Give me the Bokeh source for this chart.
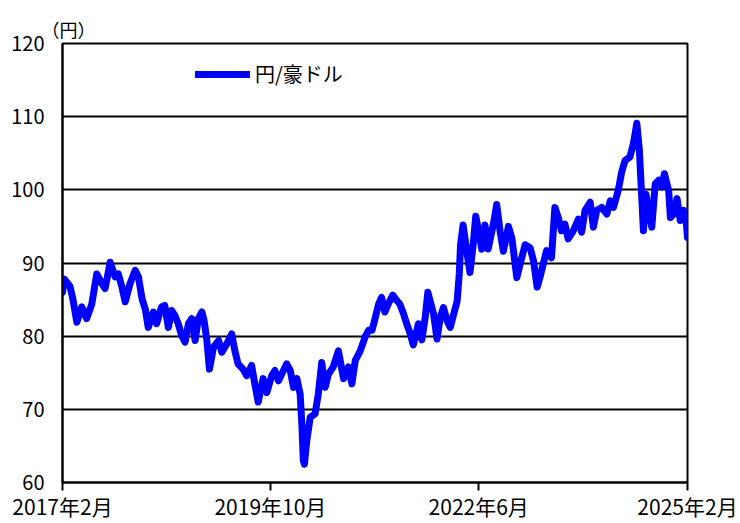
from bokeh.plotting import figure
from bokeh.models import (ColumnDataSource, FixedTicker, CustomJSTickFormatter,
                          Legend, LegendItem, Range1d)
from bokeh.embed import file_html
from bokeh.resources import INLINE
import pandas as pd

FONT = "Noto Sans CJK JP"

dates = [
    "2017-02-01", "2017-02-10", "2017-03-08", "2017-03-22", "2017-04-09", "2017-05-02",
    "2017-05-25", "2017-06-18", "2017-07-11", "2017-08-04", "2017-08-19", "2017-09-12",
    "2017-10-05", "2017-10-20", "2017-11-06", "2017-11-21", "2017-12-14", "2018-01-07",
    "2018-01-22", "2018-02-08", "2018-02-23", "2018-03-09", "2018-04-02", "2018-04-17",
    "2018-05-10", "2018-05-25", "2018-06-11", "2018-06-26", "2018-07-12", "2018-07-27",
    "2018-08-12", "2018-08-28", "2018-09-13", "2018-09-28", "2018-10-14", "2018-10-29",
    "2018-11-15", "2018-11-25", "2018-12-08", "2018-12-20", "2019-01-08", "2019-02-01",
    "2019-02-16", "2019-03-10", "2019-04-03", "2019-04-18", "2019-05-03", "2019-05-26",
    "2019-06-12", "2019-07-05", "2019-07-20", "2019-08-05", "2019-08-28", "2019-09-14",
    "2019-10-07", "2019-10-22", "2019-11-08", "2019-12-01", "2019-12-16", "2020-01-02",
    "2020-01-17", "2020-02-02", "2020-02-17", "2020-02-25", "2020-03-03", "2020-03-08",
    "2020-03-19", "2020-04-04", "2020-04-27", "2020-05-12", "2020-05-28", "2020-06-13",
    "2020-06-28", "2020-07-21", "2020-08-14", "2020-09-07", "2020-09-30", "2020-10-16",
    "2020-11-01", "2020-11-24", "2020-12-17", "2021-01-02", "2021-01-18", "2021-02-03",
    "2021-02-18", "2021-03-04", "2021-03-19", "2021-04-04", "2021-04-25", "2021-05-13",
    "2021-05-28", "2021-06-14", "2021-06-29", "2021-07-15", "2021-07-30", "2021-08-23",
    "2021-09-08", "2021-09-24", "2021-10-06", "2021-10-17", "2021-11-02", "2021-11-18",
    "2021-12-03", "2021-12-18", "2022-01-04", "2022-01-19", "2022-02-04", "2022-02-20",
    "2022-03-02", "2022-03-08", "2022-03-20", "2022-04-06", "2022-04-21", "2022-05-06",
    "2022-05-18", "2022-06-04", "2022-06-15", "2022-06-30", "2022-07-15", "2022-08-01",
    "2022-08-11", "2022-08-24", "2022-09-09", "2022-09-24", "2022-10-18", "2022-11-03",
    "2022-11-26", "2022-12-11", "2023-01-04", "2023-01-27", "2023-02-12", "2023-03-01",
    "2023-03-14", "2023-03-29", "2023-04-14", "2023-05-07", "2023-05-23", "2023-06-08",
    "2023-06-23", "2023-07-09", "2023-07-24", "2023-08-17", "2023-09-10", "2023-09-25",
    "2023-10-11", "2023-11-04", "2023-11-19", "2023-12-05", "2023-12-28", "2024-01-21",
    "2024-02-06", "2024-02-21", "2024-03-14", "2024-03-30", "2024-04-15", "2024-05-08",
    "2024-05-24", "2024-06-09", "2024-06-21", "2024-06-29", "2024-07-10", "2024-07-22",
    "2024-08-03", "2024-08-18", "2024-09-03", "2024-09-19", "2024-10-04", "2024-10-16",
    "2024-11-05", "2024-11-13", "2024-11-28", "2024-12-14", "2024-12-29", "2025-01-14",
    "2025-01-27", "2025-02-01",
]

jpy_aud = [
    86.0, 87.8, 86.8, 85.0, 81.9, 84.0,
    82.4, 84.4, 88.5, 87.2, 86.5, 90.1,
    88.1, 88.5, 86.7, 84.7, 87.2, 89.0,
    88.1, 85.1, 83.7, 81.2, 83.3, 81.7,
    84.0, 84.2, 81.2, 83.5, 82.8, 81.7,
    80.1, 79.2, 81.7, 82.4, 79.4, 82.4,
    83.3, 82.1, 79.4, 75.5, 78.5, 79.4,
    77.8, 78.9, 80.3, 78.0, 76.2, 75.5,
    74.6, 76.0, 73.5, 71.0, 74.2, 72.3,
    74.6, 75.3, 73.9, 75.3, 76.2, 75.3,
    73.0, 74.2, 72.1, 68.0, 63.0, 62.5,
    65.7, 68.9, 69.4, 72.1, 76.4, 73.0,
    74.8, 75.8, 78.0, 74.2, 75.8, 73.5,
    76.7, 78.0, 79.9, 80.8, 80.8, 82.6,
    84.4, 85.3, 83.3, 84.4, 85.6, 84.9,
    84.4, 83.1, 81.7, 80.4, 78.8, 81.7,
    79.5, 82.6, 86.0, 84.8, 83.0, 79.6,
    82.6, 83.9, 82.1, 81.2, 83.0, 84.8,
    88.5, 92.5, 95.2, 91.6, 88.7, 92.5,
    96.4, 93.9, 91.9, 95.2, 91.9, 94.3,
    95.7, 98.0, 94.3, 91.6, 95.0, 93.4,
    88.0, 89.8, 92.5, 92.1, 90.3, 86.7,
    88.0, 89.8, 91.7, 90.7, 97.6, 96.2,
    94.4, 95.3, 93.3, 94.4, 96.0, 94.2,
    97.2, 98.3, 94.9, 97.2, 97.6, 96.7,
    98.5, 97.6, 99.9, 102.4, 104.0, 104.5,
    106.3, 109.1, 105.4, 100.8, 94.4, 99.4,
    97.2, 94.9, 100.8, 101.3, 100.4, 102.2,
    99.9, 96.2, 96.7, 98.8, 95.8, 97.2,
    95.3, 93.5,
]

x_ticks = ["2017-02-01", "2019-10-01", "2022-06-01", "2025-02-01"]
y_ticks = [60, 70, 80, 90, 100, 110, 120]
series_name = "円/豪ドル"
unit_label = "（円）"

src = ColumnDataSource(dict(date=pd.to_datetime(dates), v=jpy_aud))

x0 = pd.Timestamp(x_ticks[0])
x1 = pd.Timestamp(x_ticks[-1])

p = figure(x_axis_type="datetime", output_backend="svg", toolbar_location=None,
           frame_width=625, frame_height=439,
           min_border_left=62, min_border_right=53, min_border_top=43, min_border_bottom=10,
           x_range=Range1d(x0, x1), y_range=Range1d(60, 120),
           title=unit_label)

p.title.align = "left"
p.title.offset = -21
p.title.standoff = 4
p.title.text_font = FONT
p.title.text_font_size = "18px"
p.title.text_font_style = "normal"
p.title.text_color = "black"

r = p.line("date", "v", source=src, line_color="#0000FF", line_width=7,
           line_join="round", line_cap="round")

tick_ms = [pd.Timestamp(t).value / 1e6 for t in x_ticks]
p.xaxis.ticker = FixedTicker(ticks=tick_ms)
p.xaxis.formatter = CustomJSTickFormatter(code="""
const d = new Date(tick);
return d.getUTCFullYear() + "年" + (d.getUTCMonth() + 1) + "月";
""")
p.yaxis.ticker = FixedTicker(ticks=y_ticks)

for ax in (p.xaxis, p.yaxis):
    ax.axis_line_color = "black"
    ax.axis_line_width = 2
    ax.major_label_text_font = FONT
    ax.major_label_text_color = "black"
    ax.minor_tick_line_color = None
    ax.major_tick_line_color = "black"
    ax.major_tick_line_width = 2

p.xaxis.major_label_text_font_size = "21px"
p.yaxis.major_label_text_font_size = "20px"
p.xaxis.major_tick_out = 8
p.xaxis.major_tick_in = 0
p.xaxis.major_label_standoff = 0
p.yaxis.major_tick_out = 0
p.yaxis.major_tick_in = 0
p.yaxis.major_label_standoff = 18

p.xgrid.grid_line_color = None
p.ygrid.grid_line_color = "black"
p.ygrid.grid_line_width = 2

p.outline_line_color = "black"
p.outline_line_width = 2
p.background_fill_color = "white"
p.border_fill_color = "white"

legend = Legend(items=[LegendItem(label=series_name, renderers=[r])],
                location=(133, 394), padding=0, margin=0, spacing=0,
                glyph_width=55, glyph_height=20, label_standoff=5,
                label_text_font=FONT, label_text_font_size="20px",
                label_text_color="black",
                border_line_color=None, background_fill_alpha=0)
p.add_layout(legend)

open("out.html", "w").write(file_html(p, INLINE))
